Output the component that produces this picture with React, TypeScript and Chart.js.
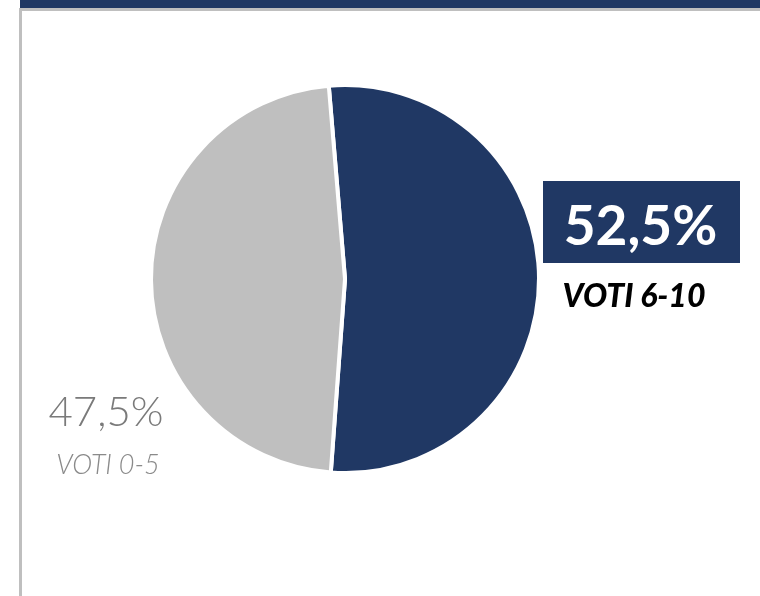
import React, { useEffect, useRef } from "react";
import { Chart, registerables } from "chart.js";

Chart.register(...registerables);

const categories = ["VOTI 6-10", "VOTI 0-5"];
const values = [52.5, 47.5];
const colors = ["#203864", "#BFBFBF"];

const fmt = (v: number) => v.toFixed(1).replace(".", ",") + "%";

const labelPlugin = {
  id: "sliceLabels",
  afterDraw(chart: any) {
    const ctx = chart.ctx;
    ctx.save();
    // navy label box (first category)
    const bx = 543, by = 181, bw = 197, bh = 82;
    ctx.fillStyle = colors[0];
    ctx.fillRect(bx, by, bw, bh);
    ctx.fillStyle = "#FFFFFF";
    ctx.font = "bold 55px Lato";
    ctx.textAlign = "center";
    ctx.textBaseline = "alphabetic";
    ctx.fillText(fmt(values[0]), bx + bw / 2 - 1, by + 64);
    ctx.fillStyle = "#000000";
    ctx.font = "italic 900 32px Lato";
    ctx.fillText(categories[0], 634, 307);

    // grey label (second category)
    ctx.fillStyle = "#7A7A7A";
    ctx.font = "300 42px Lato";
    ctx.fillText(fmt(values[1]), 106, 426);
    ctx.fillStyle = "#8A8A8A";
    ctx.font = "italic 300 27px Lato";
    ctx.fillText(categories[1], 108, 474);
    ctx.restore();
  },
};

export default function App() {
  const ref = useRef<HTMLCanvasElement>(null);
  useEffect(() => {
    if (!ref.current) return;
    const chart = new Chart(ref.current, {
      type: "pie",
      data: {
        labels: categories,
        datasets: [
          {
            data: values,
            backgroundColor: colors,
            borderColor: "#FFFFFF",
            borderWidth: 4,
          },
        ],
      },
      options: {
        responsive: false,
        animation: false,
        rotation: -4.8,
        layout: { padding: { left: 149, right: 219, top: 83, bottom: 121 } },
        plugins: { legend: { display: false }, tooltip: { enabled: false } },
      },
      plugins: [labelPlugin],
    });
    return () => chart.destroy();
  }, []);
  return (
    <div style={{ position: "fixed", left: 0, top: 0, width: 760, height: 596, background: "#FFFFFF", overflow: "hidden" }}>
      <div style={{ position: "absolute", left: 20, top: 0, width: 740, height: 8, background: "#203864" }} />
      <div style={{ position: "absolute", left: 19, top: 8, width: 741, height: 600, borderLeft: "3px solid #BFBFBF", borderTop: "3px solid #BFBFBF", boxSizing: "border-box" }} />
      <canvas ref={ref} width={760} height={596} style={{ position: "absolute", left: 0, top: 0, width: 760, height: 596 }} />
    </div>
  );
}
